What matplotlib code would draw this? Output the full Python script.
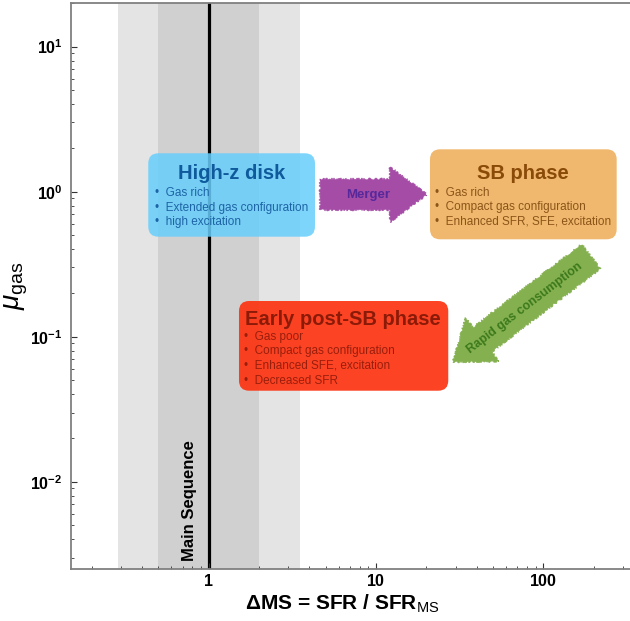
import matplotlib

matplotlib.use("Agg")
import matplotlib.pyplot as plt
from matplotlib.patches import FancyBboxPatch
from matplotlib.ticker import FuncFormatter, LogLocator, NullFormatter
import numpy as np

plt.rcParams["font.family"] = ["Liberation Sans", "DejaVu Sans"]
plt.rcParams["mathtext.fontset"] = "custom"
plt.rcParams["mathtext.rm"] = "Liberation Sans"
plt.rcParams["mathtext.it"] = "Liberation Sans:italic"
plt.rcParams["mathtext.bf"] = "Liberation Sans:bold"

# --- data -------------------------------------------------------------------
x_range = [0.15, 330.0]          # Delta MS
y_range = [0.0025, 20.0]         # mu_gas
ms_center = 1.0
band_outer = [0.286, 3.5]        # MS scatter, wide
band_inner = [0.5, 2.0]          # MS scatter, narrow

titles = ["High-z disk", "SB phase", "Early post-SB phase"]
bullets = [
    ["Gas rich", "Extended gas configuration", "high excitation"],
    ["Gas rich", "Compact gas configuration", "Enhanced SFR, SFE, excitation"],
    ["Gas poor", "Compact gas configuration", "Enhanced SFE, excitation", "Decreased SFR"],
]
arrow_labels = ["Merger", "Rapid gas consumption"]

# --- layout (axes fraction) ---------------------------------------------------
box_xy = [(0.1387, 0.5871), (0.6424, 0.5825), (0.3009, 0.3150)]
box_wh = [(0.2981, 0.1474), (0.3338, 0.1590), (0.3742, 0.1585)]
title_xy = [(0.2879, 0.6996), (0.8087, 0.6996), (0.4869, 0.4417)]
bullet_x = [0.1507, 0.6514, 0.3099]
bullet_y0 = [0.6638, 0.6648, 0.4104]
bullet_dy = 0.0258
box_face = ["#68cefb", "#eeb262", "#fc3411"]
box_alpha = [0.85, 0.92, 0.92]
title_col = ["#0f5a9c", "#8a4a08", "#8c1a08"]
bullet_col = ["#1d64a6", "#8c5518", "#9a1e0c"]

fig = plt.figure(figsize=(6.3, 6.21), dpi=100)
ax = fig.add_axes([0.1122, 0.0837, 0.8878, 0.9115])
ax.set_xscale("log")
ax.set_yscale("log")
ax.set_xlim(*x_range)
ax.set_ylim(*y_range)

ax.axvspan(*band_outer, color="#e4e4e4", lw=0, zorder=0)
ax.axvspan(*band_inner, color="#d0d0d0", lw=0, zorder=0)
ax.axvline(ms_center, color="black", lw=2.3, zorder=1)
ax.annotate("Main Sequence", xy=(ms_center, 0), xycoords=("data", "axes fraction"),
            xytext=(-8, 6), textcoords="offset points", rotation=90,
            ha="right", va="bottom", fontsize=12, fontweight="bold")

# boxes
for i, title in enumerate(titles):
    ax.add_patch(FancyBboxPatch(box_xy[i], *box_wh[i], transform=ax.transAxes,
                                boxstyle="round,pad=0,rounding_size=0.018",
                                fc=box_face[i], ec="none", alpha=box_alpha[i], zorder=3))
    ax.text(*title_xy[i], title, transform=ax.transAxes, ha="center", va="center",
            fontsize=14.5, fontweight="bold", color=title_col[i], zorder=4)
    for j, line in enumerate(bullets[i]):
        ax.text(bullet_x[i], bullet_y0[i] - j * bullet_dy, "\u2022  " + line,
                transform=ax.transAxes, ha="left", va="center", fontsize=8.5,
                color=bullet_col[i], zorder=4)

# arrows
arrows = [((0.4457, 0.6617), (0.6370, 0.6617), "#a54ca6", "#56289a", (0.5316, 0.6608), 0, 9.5),
          ((0.9303, 0.5521), (0.6835, 0.3657), "#84b04f", "#3d7a1c", (0.8123, 0.4611), 37.4, 9)]
for (tail, tip, fc, tc, txy, rot, fs), lab in zip(arrows, arrow_labels):
    ann = ax.annotate("", xy=tip, xycoords="axes fraction", xytext=tail,
                      textcoords="axes fraction",
                      arrowprops=dict(arrowstyle="simple,head_length=2.66,head_width=3.96,tail_width=2.23",
                                      mutation_scale=10, fc=fc, ec=fc, lw=0.5,
                                      shrinkA=0, shrinkB=0), zorder=3)
    ann.arrow_patch.set_sketch_params(1.0, 2.0, 4.0)
    ax.text(*txy, lab, transform=ax.transAxes, rotation=rot, ha="center", va="center",
            fontsize=fs, fontweight="bold", color=tc, zorder=4)

# axes styling
for side in ["left", "bottom", "top"]:
    ax.spines[side].set_color("#808080")
    ax.spines[side].set_linewidth(1.3)
ax.spines["right"].set_visible(False)
ax.tick_params(which="both", direction="in", top=False, right=False, color="#333333")
ax.tick_params(which="major", length=4, width=0.8, labelsize=11.5)
ax.tick_params(axis="x", which="major", pad=3)
ax.tick_params(axis="y", which="major", pad=6)
ax.tick_params(which="minor", length=2.5, width=0.6)
ax.xaxis.set_major_locator(LogLocator(base=10))
ax.xaxis.set_major_formatter(FuncFormatter(lambda v, p: r"$\mathbf{%g}$" % v))
ax.xaxis.set_minor_formatter(NullFormatter())
ax.yaxis.set_major_formatter(FuncFormatter(
    lambda v, p: r"$\mathbf{10^{%d}}$" % int(np.round(np.log10(v)))))
ax.yaxis.set_minor_formatter(NullFormatter())

ax.set_xlabel("\u0394MS = SFR / SFR$_{\\mathrm{MS}}$", fontsize=15, fontweight="bold")
ax.xaxis.set_label_coords(0.485, -0.042)
ax.set_ylabel(r"$\mu_{\mathrm{gas}}$", fontsize=20)
ax.yaxis.set_label_coords(-0.072, 0.5)

fig.savefig("out.png", dpi=100)
